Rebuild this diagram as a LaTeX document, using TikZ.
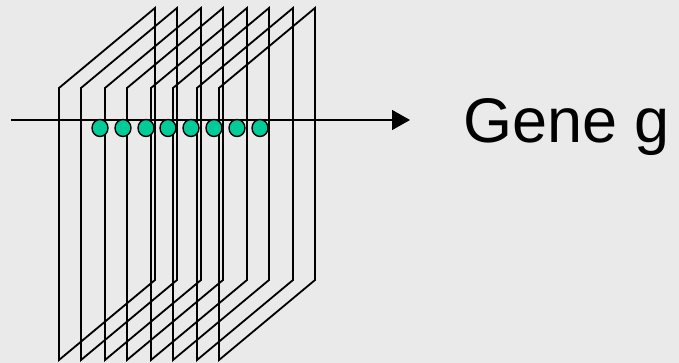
\documentclass[tikz,border=0pt]{standalone}
\usepackage{fontspec}
\setmainfont{Liberation Sans}
\usetikzlibrary{arrows.meta,shapes.geometric}
\definecolor{bg}{RGB}{234,234,234}
\definecolor{spot}{RGB}{0,204,153}
\tikzset{
  slab/.style={draw=black, line width=1.8pt, line join=miter},
  axis/.style={draw=black, line width=1.4pt, -{Triangle[length=18pt,width=20pt]}},
  dot/.style={ellipse, draw=black, line width=1.4pt, fill=spot, inner sep=0pt,
              minimum width=16pt, minimum height=17pt},
  label/.style={font=\fontsize{63}{70}\selectfont, anchor=base west, inner sep=0pt}
}
\begin{document}
\begin{tikzpicture}[x=1pt,y=-1pt]
  \fill[bg] (0,0) rectangle (679,363);
  \useasboundingbox (0,0) rectangle (679,363);
  % stack of slanted planes
  \foreach \xl in {59,81,105,127,151,173,197,219}{
    \draw[slab] (\xl,360) -- (\xl,88) -- (\xl+96,8) -- (\xl+96,280) -- cycle;
  }
  % axis through the stack
  \coordinate (start) at (11,120);
  \coordinate (tip) at (410,120);
  \draw[axis] (start) -- (tip);
  % spots on the axis
  \foreach \x [count=\i] in {100,123,146,168,191,214,237,260}{
    \node[dot] (c\i) at (\x,128) {};
  }
  \node[label] (gene) at (463,143) {Gene g};
\end{tikzpicture}
\end{document}
